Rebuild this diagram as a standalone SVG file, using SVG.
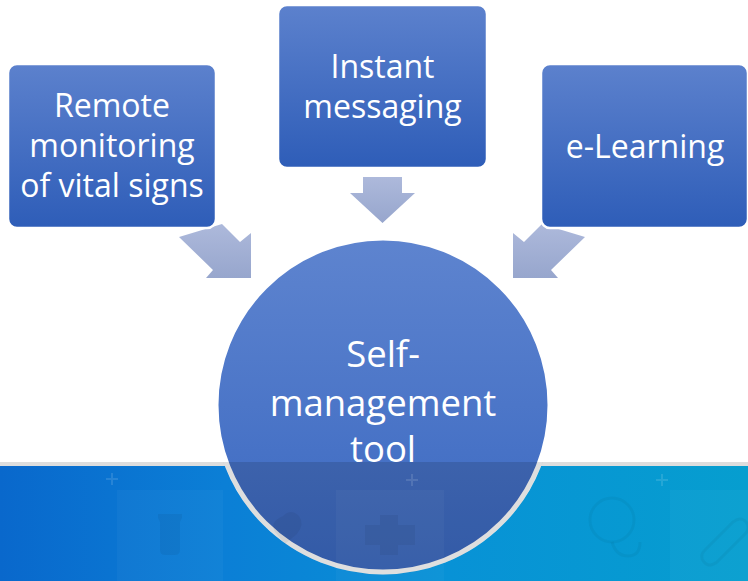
<svg xmlns="http://www.w3.org/2000/svg" width="748" height="581" viewBox="0 0 748 581">
  <defs>
    <linearGradient id="boxFill" x1="0" y1="0" x2="0" y2="1">
      <stop offset="0" stop-color="#5c81cd"/>
      <stop offset="1" stop-color="#2e5db8"/>
    </linearGradient>
    <linearGradient id="arrowFill" x1="0" y1="0" x2="0" y2="1">
      <stop offset="0" stop-color="#adb9db"/>
      <stop offset="1" stop-color="#97a6cd"/>
    </linearGradient>
    <linearGradient id="hubFill" x1="0" y1="0" x2="0" y2="1">
      <stop offset="0" stop-color="#5e84cf"/>
      <stop offset="1" stop-color="#3a68c1"/>
    </linearGradient>
    <linearGradient id="bannerFill" x1="0" y1="0" x2="1" y2="0">
      <stop offset="0" stop-color="#0968cc"/>
      <stop offset="0.3" stop-color="#0b7fd6"/>
      <stop offset="0.6" stop-color="#0892d6"/>
      <stop offset="1" stop-color="#069ecf"/>
    </linearGradient>
    <clipPath id="bannerClip">
      <rect x="0" y="462" width="748" height="119"/>
    </clipPath>
    <style>
      .box { fill: url(#boxFill); stroke: #ffffff; stroke-width: 2.5; }
      .arrow { fill: url(#arrowFill); }
      .label { font-family: "Open Sans", "Noto Sans", sans-serif; fill: #ffffff; text-anchor: middle; }
      .small { font-size: 32px; }
      .big { font-size: 36.5px; }
      .icon-dark { fill: #000000; opacity: 0.05; }
      .icon-light { fill: #ffffff; opacity: 0.03; }
      .icon-plus { stroke: #ffffff; stroke-width: 2; opacity: 0.12; fill: none; }
      .icon-line { stroke: #000000; stroke-width: 3; opacity: 0.04; fill: none; }
    </style>
  </defs>

  <rect width="748" height="581" fill="#ffffff"/>

  <!-- footer banner -->
  <g id="banner">
    <rect x="0" y="466" width="748" height="115" fill="url(#bannerFill)"/>
    <rect x="0" y="462" width="748" height="4" fill="#dddddd"/>
  </g>

  <!-- connectors -->
  <g id="connectors">
    <polygon class="arrow" points="179,237 222,224 240,242 251,233 251,278 206,278 213,270"/>
    <polygon class="arrow" points="363,177 402,177 402,193 415,193 382.5,223 350,193 363,193"/>
    <polygon class="arrow" points="585,237 542,224 524,242 513,233 513,278 558,278 551,270"/>
  </g>

  <g id="node-remote">
    <rect class="box" x="8" y="64" width="208" height="164" rx="9"/>
    <text class="label small" x="112" y="117">Remote</text>
    <text class="label small" x="112" y="157">monitoring</text>
    <text class="label small" x="112" y="197">of vital signs</text>
  </g>

  <g id="node-messaging">
    <rect class="box" x="278" y="5" width="209" height="163" rx="9"/>
    <text class="label small" x="382.5" y="78">Instant</text>
    <text class="label small" x="382.5" y="118">messaging</text>
  </g>

  <g id="node-elearning">
    <rect class="box" x="541" y="64" width="207" height="164" rx="9"/>
    <text class="label small" x="645" y="158">e-Learning</text>
  </g>

  <g id="node-hub">
    <circle cx="383" cy="405" r="167" fill="url(#hubFill)" stroke="#ffffff" stroke-width="5"/>
    <!-- banner haze over the lower part of the circle -->
    <g clip-path="url(#bannerClip)">
      <circle cx="383" cy="405" r="169.5" fill="#000000" opacity="0.13"/>
    </g>
    <text class="label big" x="383" y="367">Self-</text>
    <text class="label big" x="383" y="416">management</text>
    <text class="label big" x="383" y="462">tool</text>
  </g>

  <!-- faint medical pattern in the banner -->
  <g id="banner-pattern" clip-path="url(#bannerClip)">
    <rect class="icon-light" x="117" y="490" width="106" height="91"/>
    <rect class="icon-light" x="336" y="490" width="108" height="91"/>
    <rect class="icon-light" x="670" y="490" width="78" height="91"/>
    <path class="icon-plus" d="M106 479 h12 M112 473 v12"/>
    <path class="icon-plus" d="M406 480 h12 M412 474 v12"/>
    <path class="icon-plus" d="M656 480 h12 M662 474 v12"/>
    <path class="icon-dark" d="M158 514 h24 v4 l-2 4 v28 q0 5 -5 5 h-10 q-5 0 -5 -5 v-28 l-2 -4 z"/>
    <path class="icon-dark" d="M380 515 h18 v10 h17 v20 h-17 v10 h-18 v-10 h-15 v-20 h15 z"/>
    <path class="icon-dark" d="M283 516 q8 -8 16 0 q6 8 -2 18 l-12 10 l-10 -12 q-6 -10 8 -16 z"/>
    <circle class="icon-line" cx="612" cy="520" r="22"/>
    <path class="icon-line" d="M612 542 q4 14 16 14 q12 0 12 -14"/>
    <path class="icon-line" d="M705 550 l28 -28 q8 -6 13 0 q5 6 -1 12 l-28 28 q-8 6 -13 0 q-5 -6 1 -12 z"/>
  </g>
</svg>
